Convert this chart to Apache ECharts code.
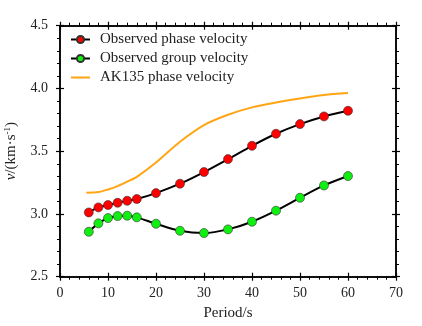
<!DOCTYPE html>
<html><head><meta charset="utf-8">
<script src="https://cdn.jsdelivr.net/npm/echarts@6/dist/echarts.min.js"></script>
<style>html,body{margin:0;padding:0;background:#fff}#c{width:422px;height:326px}</style>
</head><body><div id="c"></div>
<script>
const periods = [6, 8, 10, 12, 14, 16, 20, 25, 30, 35, 40, 45, 50, 55, 60];
const phaseObs = [3.012, 3.052, 3.071, 3.089, 3.105, 3.119, 3.166, 3.241, 3.334, 3.437, 3.543, 3.639, 3.716, 3.777, 3.822];
const groupObs = [2.858, 2.925, 2.967, 2.983, 2.986, 2.973, 2.922, 2.866, 2.848, 2.877, 2.938, 3.026, 3.129, 3.227, 3.302];
const akPeriods = [5.5, 8, 10, 12, 14, 16, 20, 25, 30, 35, 40, 45, 50, 55, 60];
const akPhase = [3.169, 3.174, 3.195, 3.222, 3.257, 3.296, 3.41, 3.575, 3.708, 3.79, 3.849, 3.888, 3.92, 3.947, 3.963];
const seriesNames = ['Observed phase velocity', 'Observed group velocity', 'AK135 phase velocity'];

const FONT = "'Liberation Serif', 'Times New Roman', serif";
const pair = (xs, ys) => xs.map((x, i) => [x, ys[i]]);
const lineC = '#000';
function xAx(pos, inside, labels, name) {
  return {
    type: 'value', position: pos, min: 0, max: 70, interval: 10,
    name: name || '', nameLocation: 'middle', nameGap: 29,
    nameTextStyle: {fontFamily: FONT, fontSize: 15, color: '#222'},
    axisLine: {show: true, onZero: false, lineStyle: {color: lineC, width: 1.5}},
    axisTick: {show: true, inside: inside, length: 4, lineStyle: {color: lineC, width: 1.2}},
    minorTick: {show: !inside, splitNumber: 5, length: 3, lineStyle: {color: lineC, width: 1}},
    axisLabel: {show: labels, margin: 10, fontFamily: FONT, fontSize: 14, color: '#222'},
    splitLine: {show: false}
  };
}
function yAx(pos, inside, labels, name) {
  return {
    type: 'value', position: pos, min: 2.5, max: 4.5, interval: 0.5,
    name: name || '', nameLocation: 'middle', nameGap: 41, nameRotate: 90,
    nameTextStyle: {fontFamily: FONT, fontSize: 15, color: '#222',
      rich: {i: {fontFamily: FONT, fontSize: 15, fontStyle: 'italic', color: '#222'},
             n: {fontFamily: FONT, fontSize: 15, color: '#222'},
             s: {fontFamily: FONT, fontSize: 9, color: '#222', padding: [0, 0, 7, 0]}}},
    axisLine: {show: true, onZero: false, lineStyle: {color: lineC, width: 1.5}},
    axisTick: {show: true, inside: inside, length: 4, lineStyle: {color: lineC, width: 1.2}},
    minorTick: {show: !inside, splitNumber: 5, length: 3, lineStyle: {color: lineC, width: 1}},
    axisLabel: {show: labels, margin: 12, fontFamily: FONT, fontSize: 14, color: '#222',
      formatter: v => v.toFixed(1)},
    splitLine: {show: false}
  };
}
const chart = echarts.init(document.getElementById('c'), null, {renderer: 'canvas'});
chart.setOption({
  backgroundColor: '#fff',
  animation: false,
  grid: {left: 60, right: 26, top: 25.7, bottom: 49.3, containLabel: false, outerBoundsMode: 'none'},
  xAxis: [xAx('bottom', false, true, 'Period/s'), xAx('bottom', true, false), xAx('top', false, false), xAx('top', true, false)],
  yAxis: [yAx('left', false, true, '{i|v}{n|/(km·s}{s|-1}{n|)}'), yAx('left', true, false), yAx('right', false, false), yAx('right', true, false)],
  legend: {
    left: 70, top: 32, orient: 'vertical', itemWidth: 19, itemHeight: 9, itemGap: 4, padding: 0,
    data: [
      {name: seriesNames[0]},
      {name: seriesNames[1]},
      {name: seriesNames[2], icon: 'path://M0,0H19V2H0Z', itemStyle: {color: '#ffa514'}}
    ],
    textStyle: {fontFamily: FONT, fontSize: 15, color: '#222', padding: [0, 0, 0, 5]}
  },
  series: [
    {name: seriesNames[0], type: 'line', data: pair(periods, phaseObs), smooth: 0.3,
     symbol: 'circle', symbolSize: 9,
     lineStyle: {color: '#000', width: 2},
     itemStyle: {color: '#ff0000', borderColor: '#333', borderWidth: 0.6}},
    {name: seriesNames[1], type: 'line', data: pair(periods, groupObs), smooth: 0.3,
     symbol: 'circle', symbolSize: 9,
     lineStyle: {color: '#000', width: 2},
     itemStyle: {color: '#11ee11', borderColor: '#333', borderWidth: 0.6}},
    {name: seriesNames[2], type: 'line', data: pair(akPeriods, akPhase), smooth: 0.3,
     symbol: 'none', showSymbol: false,
     lineStyle: {color: '#ffa514', width: 2},
     itemStyle: {color: '#ffa514'}}
  ]
});
</script></body></html>
